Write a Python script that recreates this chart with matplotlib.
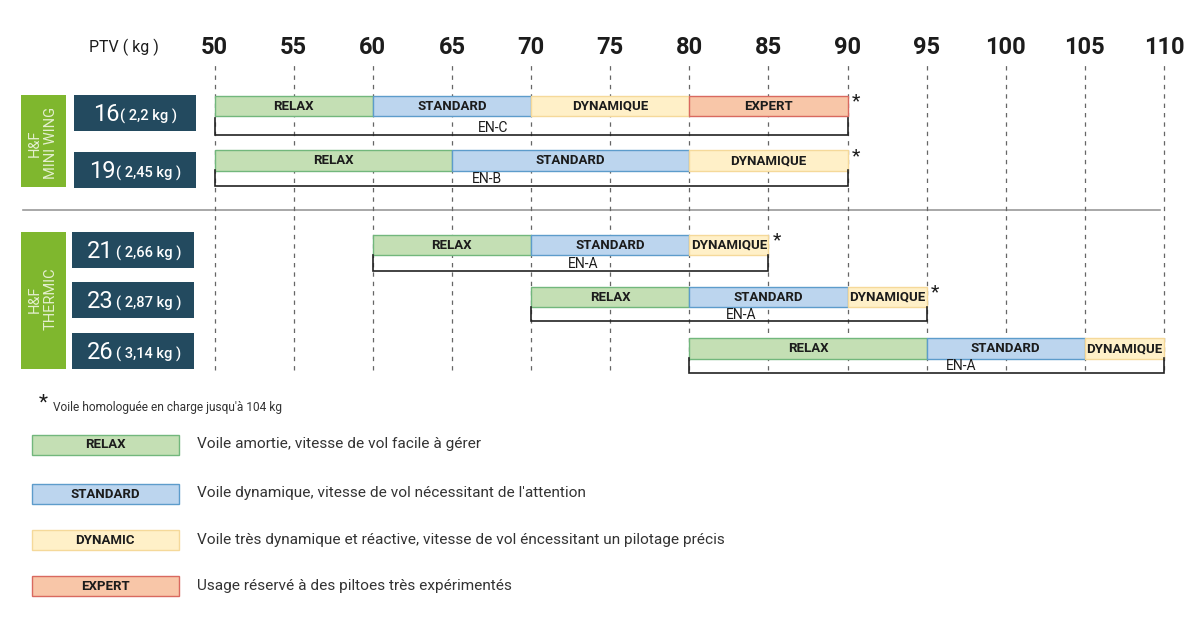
import matplotlib
matplotlib.use("Agg")
import matplotlib.pyplot as plt

plt.rcParams['font.family'] = ['Roboto', 'DejaVu Sans']

W, H = 1200, 628

ticks = [50, 55, 60, 65, 70, 75, 80, 85, 90, 95, 100, 105, 110]

# one row per wing size: class boundaries in kg
sizes = ['16', '19', '21', '23', '26']
weights = ['( 2,2 kg )', '( 2,45 kg )', '( 2,66 kg )', '( 2,87 kg )', '( 3,14 kg )']
edges = [
    [50, 60, 70, 80, 90],
    [50, 65, 80, 90],
    [60, 70, 80, 85],
    [70, 80, 90, 95],
    [80, 95, 105, 110],
]
classes = [
    ['RELAX', 'STANDARD', 'DYNAMIQUE', 'EXPERT'],
    ['RELAX', 'STANDARD', 'DYNAMIQUE'],
    ['RELAX', 'STANDARD', 'DYNAMIQUE'],
    ['RELAX', 'STANDARD', 'DYNAMIQUE'],
    ['RELAX', 'STANDARD', 'DYNAMIQUE'],
]
cert = ['EN-C', 'EN-B', 'EN-A', 'EN-A', 'EN-A']
cert_x = [67.6, 67.2, 73.3, 83.3, 97.2]
starred = [True, True, True, True, False]

legend_names = ['RELAX', 'STANDARD', 'DYNAMIC', 'EXPERT']
legend_keys = ['RELAX', 'STANDARD', 'DYNAMIQUE', 'EXPERT']
legend_desc = [
    'Voile amortie, vitesse de vol facile à gérer',
    "Voile dynamique, vitesse de vol nécessitant de l'attention",
    'Voile très dynamique et réactive, vitesse de vol éncessitant un pilotage précis',
    'Usage réservé à des piltoes très expérimentés',
]

fills = {'RELAX': '#c4dfb4', 'STANDARD': '#bcd5ee', 'DYNAMIQUE': '#fff0c8', 'EXPERT': '#f8c6a8'}
lines = {'RELAX': '#72b77c', 'STANDARD': '#5d9ccb', 'DYNAMIQUE': '#f5d99a', 'EXPERT': '#d9695f'}
DARK = '#234a5f'
GREEN = '#7fb72e'
TEXT = '#1c1c1c'

# pixel layout of the rows
bar_top = [95.5, 150, 234.5, 286.5, 338]
bar_h = 20.5
bracket_top = [118, 170, 255, 307, 358]
bracket_bottom = [135, 186, 271, 321, 373]
box_x = [74, 74, 72, 72, 72]
box_y = [95, 152, 232, 282, 333]
size_x = [93, 89, 87, 87, 87]
weight_x = [120, 116, 116, 116, 116]
legend_y = [435, 484, 530, 576]
desc_y = [444, 493, 540, 586]

fig = plt.figure(figsize=(W / 100, H / 100), dpi=100)

# full-figure axes in pixels for the labels, boxes and legend
lay = fig.add_axes([0, 0, 1, 1])
lay.set_xlim(0, W)
lay.set_ylim(H, 0)
lay.axis('off')

# chart axes: x in kg, y still in pixels
x0, x1, y0, y1 = 214.5, 1164, 63, 370
ax = fig.add_axes([x0 / W, 1 - y1 / H, (x1 - x0) / W, (y1 - y0) / H])
ax.set_xlim(50, 110)
ax.set_ylim(y1, y0)
ax.patch.set_alpha(0)
for s in ax.spines.values():
    s.set_visible(False)
ax.xaxis.tick_top()
ax.set_xticks(ticks)
ax.set_xticklabels(ticks, fontsize=17, fontweight='bold', color=TEXT)
ax.tick_params(axis='x', length=0, pad=3.2)
ax.set_yticks([])
ax.grid(axis='x', color='#666666', lw=0.9, ls=(0, (3.5, 4)))
for gl in ax.get_xgridlines():
    gl.set_clip_on(False)
ax.set_axisbelow(True)

for i, row in enumerate(edges):
    for j, name in enumerate(classes[i]):
        ax.barh(bar_top[i], row[j + 1] - row[j], left=row[j], height=bar_h, align='edge',
                color=fills[name], edgecolor=lines[name], lw=1, zorder=3, clip_on=False)
        ax.text((row[j] + row[j + 1]) / 2, bar_top[i] + bar_h / 2 + 0.5, name, ha='center', va='center',
                fontsize=9.5, fontweight='bold', color=TEXT, zorder=4)
    # certification bracket under the row
    ax.plot([row[0], row[0], row[-1], row[-1]],
            [bracket_top[i], bracket_bottom[i], bracket_bottom[i], bracket_top[i]],
            color='#222222', lw=1.2, zorder=3, clip_on=False, solid_joinstyle='miter')
    ax.text(cert_x[i], (bracket_top[i] + bracket_bottom[i]) / 2 + 1, cert[i], ha='center', va='center',
            fontsize=10, color=TEXT, zorder=4)
    if starred[i]:
        ax.text(row[-1] + 0.55, bar_top[i] + 6, '*', ha='center', va='center',
                fontsize=14, color=TEXT, zorder=4)

# separator
lay.plot([23, 1160], [210, 210], color='#9a9a9a', lw=1.2)

lay.text(124, 47, 'PTV ( kg )', ha='center', va='center', fontsize=11.5, color=TEXT)

# family labels
lay.add_patch(plt.Rectangle((21, 95), 45, 92, color=GREEN, lw=0))
lay.text(42.5, 143, 'H&F\nMINI WING', rotation=90, ha='center', va='center', fontsize=10.5,
         color='#e4efcf', linespacing=1.2)
lay.add_patch(plt.Rectangle((21, 232), 45, 137, color=GREEN, lw=0))
lay.text(42.5, 299, 'H&F\nTHERMIC', rotation=90, ha='center', va='center', fontsize=10.5,
         color='#e4efcf', linespacing=1.2)

# size boxes
for i in range(len(sizes)):
    lay.add_patch(plt.Rectangle((box_x[i], box_y[i]), 122, 36, color=DARK, lw=0))
    lay.text(size_x[i], box_y[i] + 19.5, sizes[i], ha='left', va='center', fontsize=17, color='white')
    lay.text(weight_x[i], box_y[i] + 21, weights[i], ha='left', va='center', fontsize=10.5,
             color='white', fontweight='medium')

# footnote
lay.text(43.5, 403, '*', ha='center', va='center', fontsize=15, color=TEXT)
lay.text(53, 408, "Voile homologuée en charge jusqu'à 104 kg", ha='left', va='center', fontsize=8.6, color='#333333')

# legend
for k, key in enumerate(legend_keys):
    lay.add_patch(plt.Rectangle((31.5, legend_y[k]), 147, 20, facecolor=fills[key],
                                edgecolor=lines[key], lw=1))
    lay.text(105, legend_y[k] + 10, legend_names[k], ha='center', va='center', fontsize=9.5,
             fontweight='bold', color=TEXT)
    lay.text(197, desc_y[k], legend_desc[k], ha='left', va='center', fontsize=11.1, color='#333333')

fig.savefig('out.png', dpi=100)
